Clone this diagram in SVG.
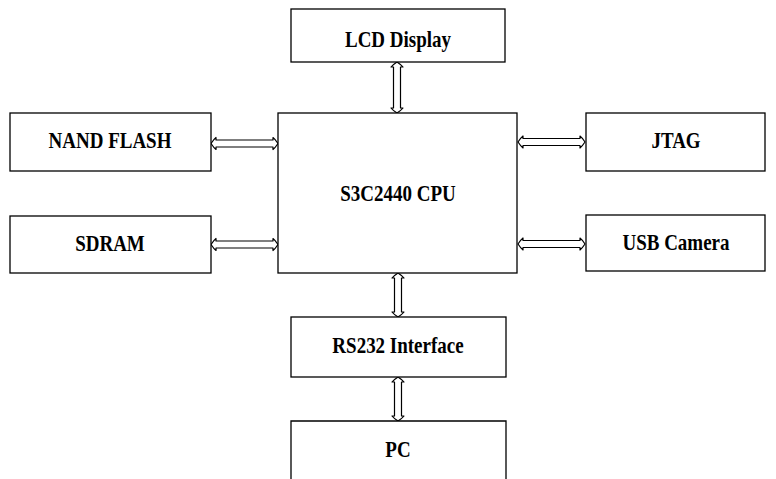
<svg xmlns="http://www.w3.org/2000/svg" width="776" height="479" viewBox="0 0 776 479">
<style>
.box{fill:#fff;stroke:#000;stroke-width:1.3}
.lbl{font-family:"Liberation Serif","Times New Roman",serif;font-weight:bold;font-size:19px;fill:#000;text-anchor:middle}
.arr{fill:#fff;stroke:#000;stroke-width:1.2;stroke-linejoin:round}
</style>
<rect width="776" height="479" fill="#fff"/>
<g id="connectors">
<path class="arr" d="M211,143.5 Q214,139 216,137.5 L216,140 L273,140 L273,137.5 Q275,139 278,143.5 Q275,148 273,149.5 L273,147 L216,147 L216,149.5 Q214,148 211,143.5 Z"/>
<path class="arr" d="M211,244.5 Q214,240 216,238.5 L216,241 L273,241 L273,238.5 Q275,240 278,244.5 Q275,249 273,250.5 L273,248 L216,248 L216,250.5 Q214,249 211,244.5 Z"/>
<path class="arr" d="M518,142 Q521,137.5 523,136 L523,138.5 L580,138.5 L580,136 Q582,137.5 585,142 Q582,146.5 580,148 L580,145.5 L523,145.5 L523,148 Q521,146.5 518,142 Z"/>
<path class="arr" d="M518,244 Q521,239.5 523,238 L523,240.5 L580,240.5 L580,238 Q582,239.5 585,244 Q582,248.5 580,250 L580,247.5 L523,247.5 L523,250 Q521,248.5 518,244 Z"/>
<path class="arr" d="M397,62 Q401.5,65 403,67 L400.5,67 L400.5,108 L403,108 Q401.5,110 397,113 Q392.5,110 391,108 L393.5,108 L393.5,67 L391,67 Q392.5,65 397,62 Z"/>
<path class="arr" d="M398,273 Q402.5,276 404,278 L401.5,278 L401.5,312 L404,312 Q402.5,314 398,317 Q393.5,314 392,312 L394.5,312 L394.5,278 L392,278 Q393.5,276 398,273 Z"/>
<path class="arr" d="M398,377 Q402.5,380 404,382 L401.5,382 L401.5,416 L404,416 Q402.5,418 398,421 Q393.5,418 392,416 L394.5,416 L394.5,382 L392,382 Q393.5,380 398,377 Z"/>
</g>
<g id="lcd"><rect class="box" x="291" y="9" width="214" height="53"/><text class="lbl" transform="translate(398,46.5) scale(1,1.17)">LCD Display</text></g>
<g id="nand"><rect class="box" x="10" y="113" width="201" height="58"/><text class="lbl" transform="translate(110,148) scale(1,1.17)">NAND FLASH</text></g>
<g id="sdram"><rect class="box" x="10" y="216" width="201" height="57"/><text class="lbl" transform="translate(110,251) scale(1,1.17)">SDRAM</text></g>
<g id="cpu"><rect class="box" x="278" y="113" width="239" height="160"/><text class="lbl" transform="translate(398,200.5) scale(1,1.17)">S3C2440 CPU</text></g>
<g id="jtag"><rect class="box" x="586" y="113" width="179" height="58"/><text class="lbl" transform="translate(676,148) scale(1,1.17)">JTAG</text></g>
<g id="usb"><rect class="box" x="586" y="215" width="179" height="56"/><text class="lbl" transform="translate(676,250) scale(1,1.17)">USB Camera</text></g>
<g id="rs232"><rect class="box" x="291" y="317" width="215" height="60"/><text class="lbl" transform="translate(398,353) scale(1,1.17)">RS232 Interface</text></g>
<g id="pc"><path class="box" d="M291,481 L291,421 L506,421 L506,481"/><text class="lbl" transform="translate(398,457) scale(1,1.17)">PC</text></g>
</svg>
